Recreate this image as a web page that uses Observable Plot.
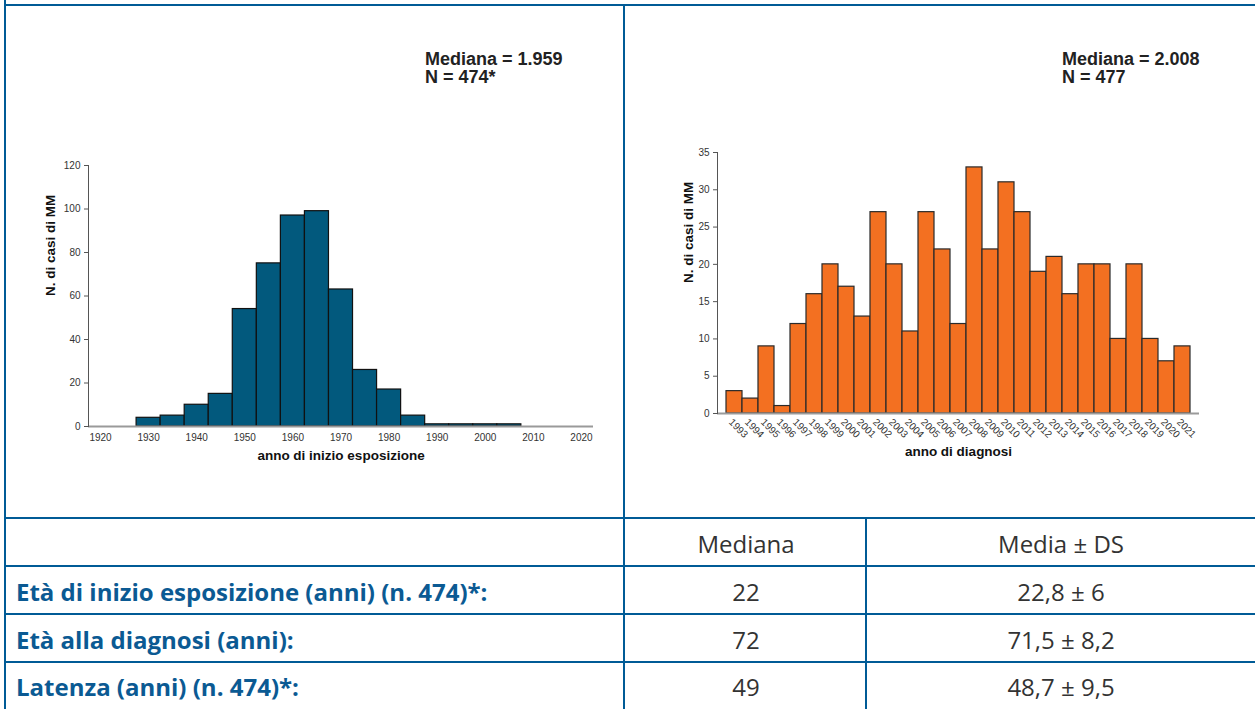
<!DOCTYPE html>
<html>
<head>
<meta charset="utf-8">
<script src="https://cdn.jsdelivr.net/npm/d3@7"></script>
<script src="https://cdn.jsdelivr.net/npm/@observablehq/plot@0.6"></script>
<style>
  html, body { margin: 0; padding: 0; background: #fff; }
  #page { position: relative; width: 1255px; height: 709px; overflow: hidden; background: #fff; }
  .line { position: absolute; background: #005b96; }
  .note { position: absolute; font-family: "Liberation Sans", Arial, sans-serif; font-weight: bold; font-size: 18px; line-height: 18px; color: #222; white-space: nowrap; }
  .cell { position: absolute; display: flex; align-items: center; font-family: "Open Sans", sans-serif; font-size: 24px; white-space: nowrap; }
  .lab { color: #0b5a93; font-weight: bold; padding-left: 10px; }
  .num { color: #333; justify-content: center; }
  .plotbox { position: absolute; }
</style>
</head>
<body>
<div id="page"></div>
<script>
// ---------- DATA ----------
const leftBinCenters = [1930, 1935, 1940, 1945, 1950, 1955, 1960, 1965, 1970, 1975, 1980, 1985, 1990, 1995, 2000, 2005];
const leftCounts     = [4, 5, 10, 15, 54, 75, 97, 99, 63, 26, 17, 5, 1, 1, 1, 1];
const leftXTicks = [1920, 1930, 1940, 1950, 1960, 1970, 1980, 1990, 2000, 2010, 2020];
const leftYTicks = [0, 20, 40, 60, 80, 100, 120];
const leftXLabel = "anno di inizio esposizione";
const yLabel = "N. di casi di MM";
const leftNote = ["Mediana = 1.959", "N = 474*"];

const rightYears  = [1993, 1994, 1995, 1996, 1997, 1998, 1999, 2000, 2001, 2002, 2003, 2004, 2005, 2006, 2007,
                     2008, 2009, 2010, 2011, 2012, 2013, 2014, 2015, 2016, 2017, 2018, 2019, 2020, 2021];
const rightCounts = [3, 2, 9, 1, 12, 16, 20, 17, 13, 27, 20, 11, 27, 22, 12,
                     33, 22, 31, 27, 19, 21, 16, 20, 20, 10, 20, 10, 7, 9];
const rightYTicks = [0, 5, 10, 15, 20, 25, 30, 35];
const rightXLabel = "anno di diagnosi";
const rightNote = ["Mediana = 2.008", "N = 477"];

const tableHeaders   = ["", "Mediana", "Media \u00b1 DS"];
const tableRowLabels = ["Et\u00e0 di inizio esposizione (anni) (n. 474)*:", "Et\u00e0 alla diagnosi (anni):", "Latenza (anni) (n. 474)*:"];
const tableMediana   = ["22", "72", "49"];
const tableMedia     = ["22,8 \u00b1 6", "71,5 \u00b1 8,2", "48,7 \u00b1 9,5"];

// ---------- LAYOUT ----------
const page = document.getElementById("page");
function line(x, y, w, h) {
  const d = document.createElement("div");
  d.className = "line";
  Object.assign(d.style, {left: x + "px", top: y + "px", width: w + "px", height: h + "px"});
  page.appendChild(d);
}
line(4, 0, 2, 709);
line(4, 4, 1251, 2);
line(623, 4, 2, 705);
const rowTops = [517, 565, 613, 661];
rowTops.forEach(y => line(4, y, 1251, 2));
line(865, 517, 2, 192);

function note(x, y, lines) {
  const d = document.createElement("div");
  d.className = "note";
  d.style.left = x + "px"; d.style.top = y + "px";
  d.innerHTML = lines.join("<br>");
  page.appendChild(d);
}
note(425, 50, leftNote);
note(1062, 50, rightNote);

const colEdges = [6, 625, 867, 1255];
const rowEdges = [519, 567, 615, 663, 709];
function cell(text, c, r, cls) {
  const d = document.createElement("div");
  d.className = "cell " + cls;
  Object.assign(d.style, {
    left: colEdges[c] + "px", top: rowEdges[r] + "px",
    width: (colEdges[c + 1] - colEdges[c]) + "px",
    height: (rowEdges[r + 1] - rowEdges[r]) + "px"
  });
  d.textContent = text;
  page.appendChild(d);
}
tableHeaders.forEach((h, i) => { if (h) cell(h, i, 0, "num"); });
tableRowLabels.forEach((t, i) => {
  cell(t, 0, i + 1, "lab");
  cell(tableMediana[i], 1, i + 1, "num");
  cell(tableMedia[i], 2, i + 1, "num");
});

// ---------- CHARTS ----------
const font = {fontFamily: "'Liberation Sans', Arial, sans-serif", fontSize: "10px", color: "#333", background: "transparent", overflow: "visible"};

const leftData = leftBinCenters.map((c, i) => ({c, n: leftCounts[i]}));
const leftPlot = Plot.plot({
  width: 580, height: 330,
  marginLeft: 58, marginRight: 17, marginTop: 15, marginBottom: 54,
  style: font,
  x: {domain: [1917.5, 2022.5]},
  y: {domain: [0, 120]},
  marks: [
    Plot.rectY(leftData, {x1: d => d.c - 2.5, x2: d => d.c + 2.5, y: "n", fill: "#02597d", stroke: "#111", strokeWidth: 1.2}),
    Plot.ruleY([0], {stroke: "#9a9a9a", strokeWidth: 2}),
    Plot.frame({anchor: "left", stroke: "#555"}),
    Plot.axisX({ticks: leftXTicks, tickSize: 0, tickPadding: 7, tickFormat: d => String(d), label: null, fontSize: 10, fill: "#333"}),
    Plot.axisY({ticks: leftYTicks, tickSize: 4, tickPadding: 4, label: null, stroke: "#555", fontSize: 10, fill: "#333"}),
    Plot.text([yLabel], {frameAnchor: "left", rotate: -90, dx: -38, fontWeight: "bold", fontSize: 13.5, fill: "#111"}),
    Plot.text([leftXLabel], {frameAnchor: "bottom", dy: 33, fontWeight: "bold", fontSize: 13.5, fill: "#111"})
  ]
});
const lb = document.createElement("div");
lb.className = "plotbox"; lb.style.left = "30px"; lb.style.top = "150px";
lb.appendChild(leftPlot); page.appendChild(lb);

const rightData = rightYears.map((y, i) => ({y, n: rightCounts[i]}));
const rightPlot = Plot.plot({
  width: 600, height: 340,
  marginLeft: 77, marginRight: 41, marginTop: 12, marginBottom: 67,
  style: font,
  x: {type: "band", domain: rightYears, padding: 0},
  y: {domain: [0, 35]},
  marks: [
    Plot.barY(rightData, {x: "y", y: "n", fill: "#f37021", stroke: "#2a2a2a", strokeWidth: 1.2, inset: 0}),
    Plot.ruleY([0], {stroke: "#9a9a9a", strokeWidth: 2}),
    Plot.frame({anchor: "left", stroke: "#555"}),
    Plot.axisX({tickSize: 0, tickRotate: 45, tickPadding: 7, dx: -4, tickFormat: d => String(d), label: null, fontSize: 10, fill: "#333"}),
    Plot.axisY({ticks: rightYTicks, tickSize: 4, tickPadding: 4, label: null, stroke: "#555", fontSize: 10, fill: "#333"}),
    Plot.text([yLabel], {frameAnchor: "left", rotate: -90, dx: -29, fontWeight: "bold", fontSize: 13.5, fill: "#111"}),
    Plot.text([rightXLabel], {frameAnchor: "bottom", dy: 42, fontWeight: "bold", fontSize: 13.5, fill: "#111"})
  ]
});
const rb = document.createElement("div");
rb.className = "plotbox"; rb.style.left = "640px"; rb.style.top = "140px";
rb.appendChild(rightPlot); page.appendChild(rb);
</script>
</body>
</html>
